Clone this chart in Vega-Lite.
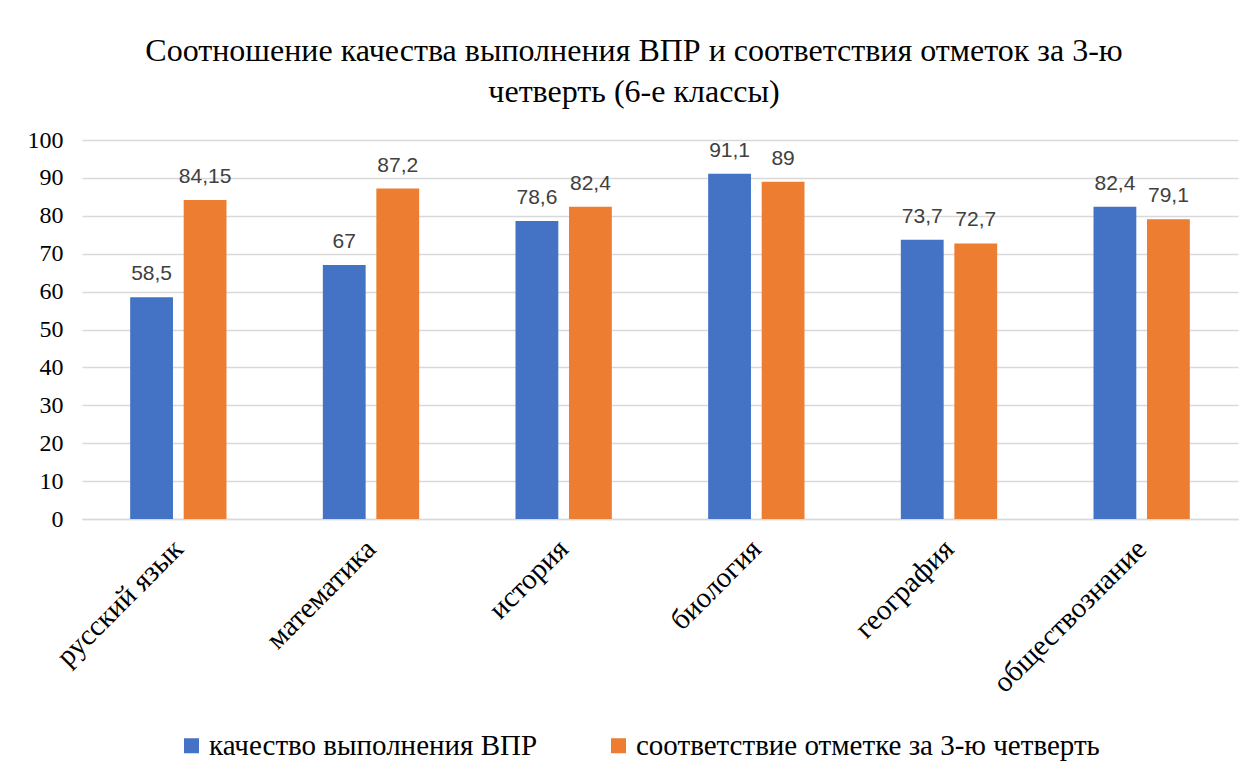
{
  "$schema": "https://vega.github.io/schema/vega-lite/v6.json",
  "autosize": {"type": "none"},
  "width": 1156,
  "height": 379,
  "padding": {"left": 82, "top": 140, "right": 13, "bottom": 259},
  "background": "white",
  "config": {
    "locale": {"number": {"decimal": ",", "thousands": " ", "grouping": [3], "currency": ["", ""]}},
    "view": {"stroke": null}
  },
  "title": {
    "text": ["Соотношение качества выполнения ВПР и соответствия отметок за 3-ю", "четверть (6-е классы)"],
    "font": "Liberation Serif",
    "fontSize": 32,
    "fontWeight": "normal",
    "color": "#000000",
    "anchor": "middle",
    "dx": -26,
    "offset": 19,
    "lineHeight": 41
  },
  "data": {
    "values": [
      {"subject": "русский язык", "series": "качество выполнения ВПР", "value": 58.5},
      {"subject": "русский язык", "series": "соответствие отметке за 3-ю четверть", "value": 84.15},
      {"subject": "математика", "series": "качество выполнения ВПР", "value": 67},
      {"subject": "математика", "series": "соответствие отметке за 3-ю четверть", "value": 87.2},
      {"subject": "история", "series": "качество выполнения ВПР", "value": 78.6},
      {"subject": "история", "series": "соответствие отметке за 3-ю четверть", "value": 82.4},
      {"subject": "биология", "series": "качество выполнения ВПР", "value": 91.1},
      {"subject": "биология", "series": "соответствие отметке за 3-ю четверть", "value": 89},
      {"subject": "география", "series": "качество выполнения ВПР", "value": 73.7},
      {"subject": "география", "series": "соответствие отметке за 3-ю четверть", "value": 72.7},
      {"subject": "обществознание", "series": "качество выполнения ВПР", "value": 82.4},
      {"subject": "обществознание", "series": "соответствие отметке за 3-ю четверть", "value": 79.1}
    ]
  },
  "encoding": {
    "x": {
      "field": "subject",
      "type": "nominal",
      "sort": null,
      "title": null,
      "scale": {"paddingInner": 0.5, "paddingOuter": 0.25},
      "axis": {
        "labelAngle": -45,
        "labelAlign": "right",
        "labelBaseline": "middle",
        "labelFont": "Liberation Serif",
        "labelFontSize": 29,
        "labelLimit": 400,
        "labelColor": "#000000",
        "labelPadding": 25,
        "ticks": false,
        "domainColor": "#d9d9d9",
        "domainWidth": 1.5,
        "grid": false
      }
    },
    "xOffset": {
      "field": "series",
      "type": "nominal",
      "sort": null,
      "scale": {"paddingInner": 0.2, "paddingOuter": 0}
    },
    "y": {
      "field": "value",
      "type": "quantitative",
      "title": null,
      "scale": {"domain": [0, 100], "nice": false},
      "axis": {
        "values": [0, 10, 20, 30, 40, 50, 60, 70, 80, 90, 100],
        "labelFont": "Liberation Serif",
        "labelFontSize": 24,
        "labelColor": "#000000",
        "labelPadding": 19,
        "ticks": false,
        "domain": false,
        "gridColor": "#d9d9d9",
        "gridWidth": 1.5
      }
    }
  },
  "layer": [
    {
      "mark": {"type": "bar"},
      "encoding": {
        "color": {
          "field": "series",
          "type": "nominal",
          "sort": null,
          "title": null,
          "scale": {"range": ["#4472C4", "#ED7D31"]},
          "legend": {
            "orient": "none",
            "legendX": 95,
            "legendY": 591,
            "direction": "horizontal",
            "symbolType": "square",
            "symbolSize": 225,
            "symbolStrokeWidth": 0,
            "labelFont": "Liberation Serif",
            "labelFontSize": 29,
            "labelColor": "#000000",
            "labelLimit": 700,
            "columnPadding": 66,
            "labelOffset": 3
          }
        }
      }
    },
    {
      "mark": {"type": "text", "baseline": "alphabetic", "dy": -17, "font": "Liberation Sans", "fontSize": 21, "color": "#404040"},
      "encoding": {
        "text": {"field": "value", "type": "quantitative", "format": "~g"}
      }
    }
  ]
}
